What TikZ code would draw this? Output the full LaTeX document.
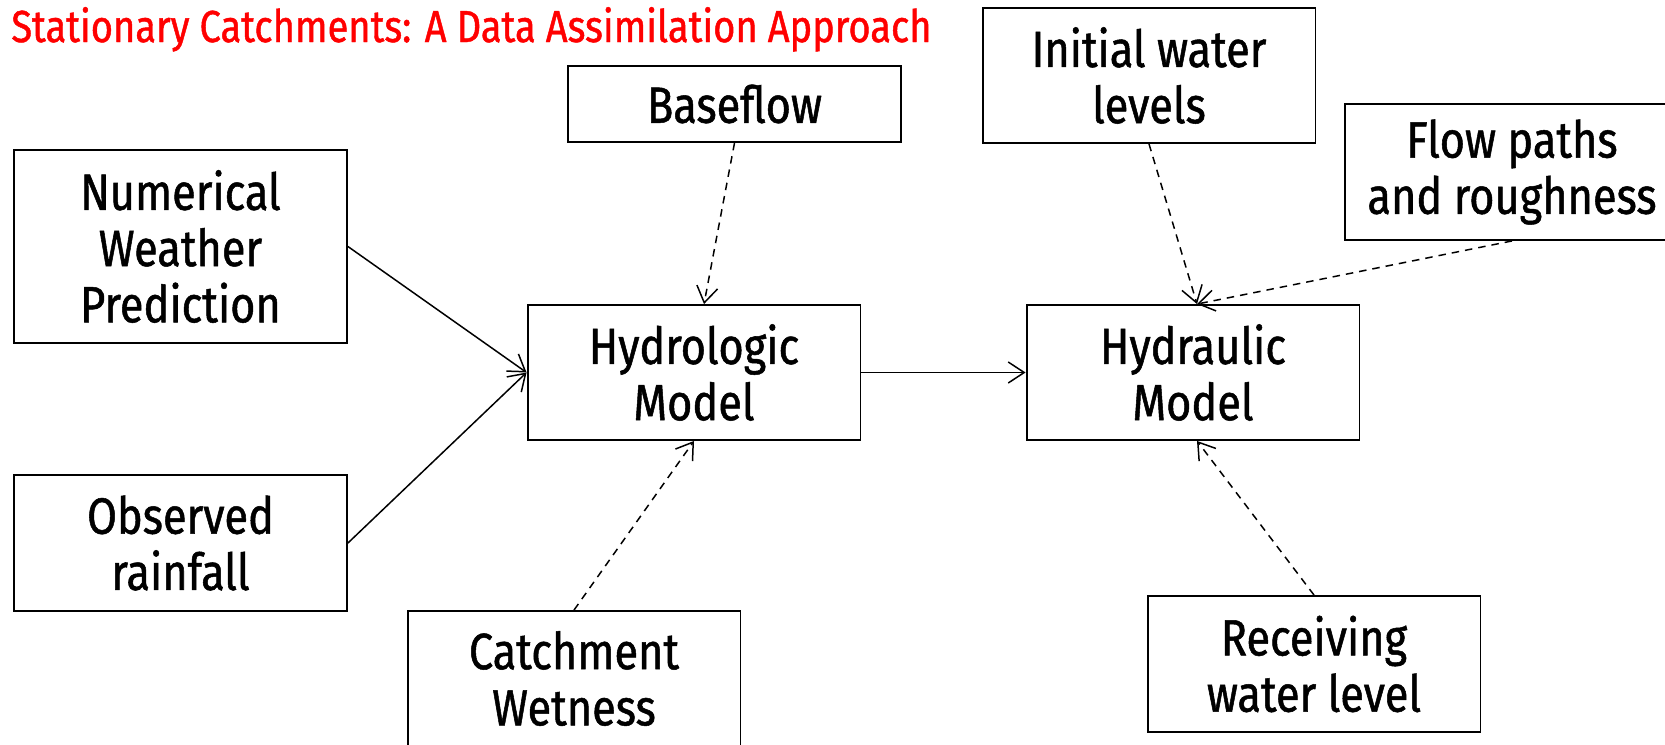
\documentclass[tikz,border=0pt]{standalone}
\usepackage{fontspec}
\setmainfont{Fira Sans}[FakeStretch=0.85,FakeBold=1]
\usetikzlibrary{arrows.meta}
\definecolor{titlered}{rgb}{1,0,0}

\begin{document}
\begin{tikzpicture}[x=0.02cm,y=-0.02cm,
	box/.style={draw,line width=1.1pt,minimum width=6.66cm,inner sep=0pt,align=center,font=\fontsize{29}{32}\selectfont},
	feed/.style={line width=0.85pt,-{Straight Barb[length=0.32cm,width=0.42cm]}},
	hint/.style={feed,dash pattern=on 0.15cm off 0.12cm}]
\useasboundingbox (0,0) rectangle (1665,744);
\node[anchor=base west,inner sep=0pt,text=titlered,font=\fontsize{25.5}{28}\selectfont] (T) at (11,42) {Stationary Catchments: A Data Assimilation Approach};
% inputs
\node[box,minimum height=3.86cm] (NWP) at (180.5,246.5) {Numerical\\Weather\\Prediction};
\node[box,minimum height=2.72cm] (OR) at (180.5,543) {Observed\\rainfall};
\node[box,minimum height=1.52cm] (BF) at (734.5,104) {Baseflow};
\node[box,minimum height=2.7cm] (CW) at (574,678.5) {Catchment\\Wetness};
\node[box,minimum height=2.7cm] (IW) at (1149,75.5) {Initial water\\levels};
\node[box,minimum height=2.72cm,minimum width=6.68cm] (FP) at (1512,172) {Flow paths\\and roughness};
\node[box,minimum height=2.72cm] (RW) at (1314,664) {Receiving\\water level};
% models
\node[box,minimum height=2.7cm] (HL) at (694,372.5) {Hydrologic\\Model};
\node[box,minimum height=2.7cm] (HR) at (1193,372.5) {Hydraulic\\Model};
% links
\draw[feed] (NWP.east) -- (HL.west);
\draw[feed] (OR.east) -- (HL.west);
\draw[feed] (HL.east) -- (HR.west);
\draw[hint] (BF.south) -- ([xshift=0.2cm]HL.north);
\draw[hint] (CW.north) -- (HL.south);
\draw[hint] (IW.south) -- ([xshift=0.08cm]HR.north);
\draw[hint] (FP.south) -- ([xshift=0.08cm]HR.north);
\draw[hint] (RW.north) -- ([xshift=0.08cm]HR.south);
%\draw[hint] (HR.east) -- (FP.west);
\end{tikzpicture}
\end{document}
